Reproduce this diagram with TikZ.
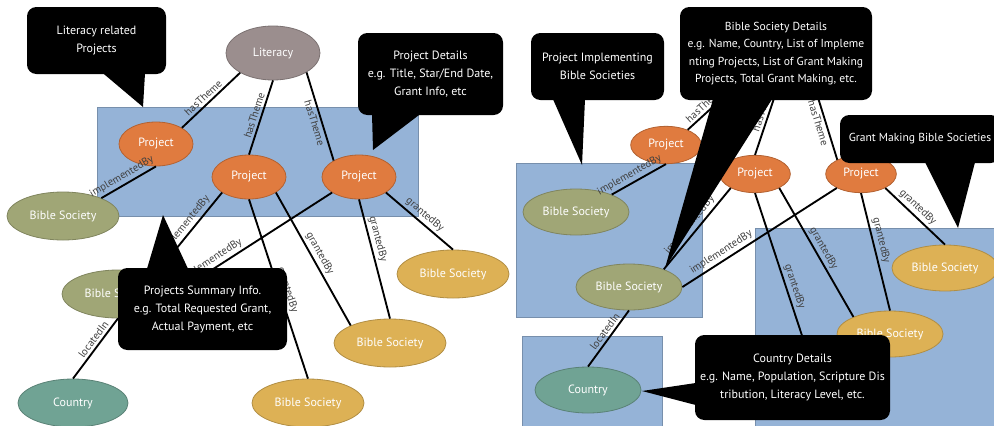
\documentclass[tikz,border=0pt]{standalone}
\usepackage{fontspec}
\setmainfont{PT Sans}
\usetikzlibrary{shapes.geometric,calc}

\definecolor{grpblue}{HTML}{95B3D7}
\definecolor{projorange}{HTML}{E07B3F}
\definecolor{socolive}{HTML}{A0A676}
\definecolor{socgold}{HTML}{DDB155}
\definecolor{cntteal}{HTML}{70A394}
\definecolor{litgray}{HTML}{9B8E8E}

\tikzset{
  ent/.style={ellipse, draw=#1!80!black, fill=#1, line width=0.6pt, text=white, inner sep=0pt, font=\fontsize{9}{10}\selectfont},
  theme/.style={ent=litgray, minimum width=70.5pt, minimum height=40.5pt},
  proj/.style={ent=projorange, minimum width=55.5pt, minimum height=33pt},
  soc/.style={ent=socolive, minimum width=84pt, minimum height=36pt},
  gsoc/.style={ent=socgold, minimum width=84pt, minimum height=36pt},
  cntry/.style={ent=cntteal, minimum width=82.5pt, minimum height=36pt},
  smp/.style={minimum width=53pt, minimum height=28pt},
  sms/.style={minimum width=79.5pt, minimum height=34.5pt},
  grp/.style={fill=grpblue, draw=grpblue!80!black, line width=0.5pt},
  rel/.style={line width=1.4pt},
  lab/.style={sloped, inner sep=1.8pt, text=black!75, font=\fontsize{8}{9}\selectfont},
  note/.style={fill=black, rounded corners=7pt, text=white, align=center, inner sep=0pt, font=\fontsize{9}{13.5}\selectfont}
}

\begin{document}
\begin{tikzpicture}[x=0.75pt,y=-0.75pt]
\fill[white] (0,0) rectangle (994,425);
\useasboundingbox (0,0) rectangle (994,425);

%Shape: Rectangle
\draw[grp] (97,107) rectangle (418,216);
\draw[grp] (516,163) rectangle (702,317);
\draw[grp] (522,336) rectangle (662,432);
\draw[grp] (755,228) rectangle (1002,432);

%Shape: Ellipse (left)
\node[theme] (lit) at (273,53) {Literacy};
\node[proj] (p1) at (156,144) {Project};
\node[proj] (p2) at (249,177) {Project};
\node[proj] (p3) at (359,177) {Project};
\node[soc] (bs1) at (63,216) {Bible Society};
\node[soc] (bs2) at (118,294) {Bible Society};
\node[cntry] (cty) at (73,403) {Country};
\node[gsoc] (bs3) at (453,274) {Bible Society};
\node[gsoc] (bs4) at (390,343) {Bible Society};
\node[gsoc] (bs5) at (308,403) {Bible Society};

%Shape: Ellipse (right)
\coordinate (lit2) at (797,30);
\node[proj,smp] (q1) at (666,145) {Project};
\node[proj,smp] (q2) at (755,174) {Project};
\node[proj,smp] (q3) at (861,174) {Project};
\node[soc,sms] (rb1) at (576,212) {Bible Society};
\node[soc,sms] (rb2) at (629,287) {Bible Society};
\node[cntry,sms] (rcty) at (588,390) {Country};
\node[gsoc,sms] (rb3) at (945,268) {Bible Society};
\node[gsoc,sms] (rb4) at (890,334) {Bible Society};
\coordinate (rb5) at (816,378);

%Straight Lines (left)
\draw[rel] (lit.211) -- node[lab, above, pos=.55] {hasTheme} (p1.32);
\draw[rel] (lit.south) -- node[lab, above, pos=.5] {hasTheme} (p2.north);
\draw[rel] (lit.-30) -- node[lab, below, pos=.55] {hasTheme} (p3.147);
\draw[rel] (p1.south) -- node[lab, above, pos=.55] {implementedBy} (bs1.25);
\draw[rel] (p2.210) -- node[lab, above, pos=.45] {implementedBy} (bs2.27);
\draw[rel] (p3.210) -- node[lab, above, pos=.74] {implementedBy} (bs2.east);
\draw[rel] (p2.south) -- node[lab, above, pos=.52] {grantedBy} (bs5.north);
\draw[rel] (p2.-30) -- node[lab, above, pos=.49] {grantedBy} (bs4.156);
\draw[rel] (p3.south) -- node[lab, above, pos=.35] {grantedBy} (bs4.north);
\draw[rel] (p3.-30) -- node[lab, above, pos=.5] {grantedBy} (bs3.north);
\draw[rel] (bs2.south) -- node[lab, above, pos=.42] {locatedIn} (cty.north);

%Straight Lines (right)
\draw[rel] (q1.35) -- node[lab, above, pos=.2] {hasTheme} (lit2);
\draw[rel] (q2.north) -- node[lab, above, pos=.35] {hasTheme} (lit2);
\draw[rel] (q3.149) -- node[lab, below, pos=.3] {hasTheme} (lit2);
\draw[rel] (q1.south) -- node[lab, above, pos=.6] {implementedBy} (rb1.26);
\draw[rel] (q2.210) -- node[lab, above, pos=.52] {implementedBy} (rb2.27);
\draw[rel] (q3.210) -- node[lab, above, pos=.72] {implementedBy} (rb2.east);
\draw[rel] (q2.south) -- node[lab, above, pos=.52] {grantedBy} (rb5);
\draw[rel] (q2.-30) -- node[lab, above, pos=.5] {grantedBy} (rb4.155);
\draw[rel] (q3.south) -- node[lab, above, pos=.42] {grantedBy} (rb4.north);
\draw[rel] (q3.-30) -- node[lab, above, pos=.45] {grantedBy} (rb3.north);
\draw[rel] (rb2.south) -- node[lab, above, pos=.45] {locatedIn} (rcty.north);

% Text Node (callouts, left)
\node[note, minimum width=104.25pt, minimum height=50.25pt] (c1) at (96.5,40.5) {Literacy related\\Projects};
\coordinate (t1) at (143,107);
\fill ($(c1.south)+(6.5,-1)$) -- (t1) -- ($(c1.south)+(48.5,-1)$) -- cycle;
\node[note, minimum width=108.75pt, minimum height=61.5pt] (c2) at (430.5,74) {Project Details\\e.g. Title, Star/End Date,\\Grant Info, etc};
\coordinate (t2) at (373,150);
\fill ($(c2.south)+(-58.5,-1)$) -- (t2) -- ($(c2.south)+(-10.5,-1)$) -- cycle;
\node[note, minimum width=126.75pt, minimum height=61.5pt] (c3) at (202.5,309) {Projects Summary Info.\\e.g. Total Requested Grant,\\Actual Payment, etc};
\coordinate (t3) at (163,215);
\fill ($(c3.north)+(-55.5,1)$) -- (t3) -- ($(c3.north)+(-14.5,1)$) -- cycle;

% Text Node (callouts, right)
\node[note, minimum width=99.75pt, minimum height=50.25pt] (d1) at (597.5,66.5) {Project Implementing\\Bible Societies};
\coordinate (u1) at (582,165);
\fill ($(d1.south)+(-44.5,-1)$) -- (u1) -- ($(d1.south)+(-12.5,-1)$) -- cycle;
\node[note, minimum width=144pt, minimum height=69.75pt, font=\fontsize{8.7}{13.2}\selectfont] (d2) at (776,53.5) {Bible Society Details\\e.g. Name, Country, List of Impleme\\nting Projects, List of Grant Making\\Projects, Total Grant Making, etc.};
\coordinate (u2) at (665,268);
\fill ($(d2.south)+(-63,-1)$) -- (u2) -- ($(d2.south)+(-4,-1)$) -- cycle;
\node[note, minimum width=120pt, minimum height=36pt, font=\fontsize{8.7}{13}\selectfont] (d3) at (920,139) {Grant Making Bible Societies};
\coordinate (u3) at (958,228);
\fill ($(d3.south)+(5,-1)$) -- (u3) -- ($(d3.south)+(55,-1)$) -- cycle;
\node[note, minimum width=146.25pt, minimum height=63.75pt] (d4) at (792.5,377.5) {Country Details\\e.g. Name, Population, Scripture Dis\\tribution, Literacy Level, etc.};
\coordinate (u4) at (642,391);
\fill ($(d4.west)+(1,5.5)$) -- (u4) -- ($(d4.west)+(1,27.5)$) -- cycle;

\end{tikzpicture}
\end{document}
